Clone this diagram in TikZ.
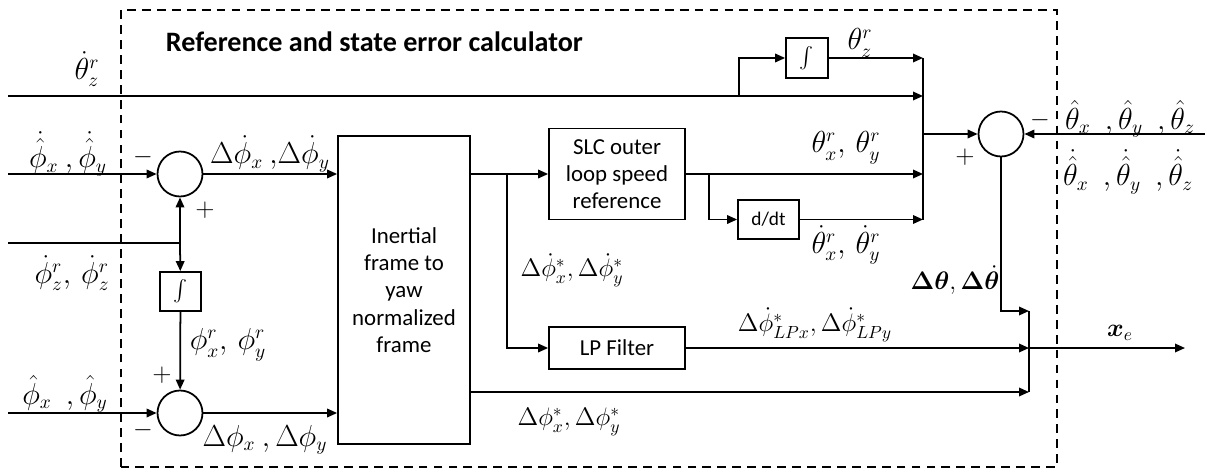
\documentclass[tikz,border=0pt]{standalone}
\usepackage{amsmath,bm}
\usepackage{fontspec}
\setmainfont{Carlito}
\usetikzlibrary{arrows.meta}

\tikzset{
  block/.style={draw, line width=1pt, align=center, inner sep=2pt, font=\fontsize{13}{15.5}\selectfont},
  sumnode/.style={draw, circle, line width=1pt, minimum size=0.9cm, inner sep=0pt},
  sig/.style={font=\fontsize{16}{19}\selectfont, inner sep=1pt},
  sigs/.style={font=\Large, inner sep=1pt},
  sign/.style={font=\Large, inner sep=0pt},
  frame/.style={line width=1pt, dash pattern=on 5pt off 3.5pt}
}

\begin{document}
\begin{tikzpicture}[line width=1pt, line join=miter,
  >={Triangle[length=2mm,width=1.7mm]}]

\useasboundingbox (0,0) rectangle (24.14,9.46);

% --- Coordinates ---
\coordinate (inA) at (0.16,7.54);
\coordinate (inB) at (0.16,5.98);
\coordinate (inC) at (0.16,4.6);
\coordinate (inD) at (0.16,1.2);
\coordinate (inE) at (24.1,6.78);
\coordinate (out) at (23.7,2.5);
\coordinate (b1) at (18.46,0);
\coordinate (b2) at (20.58,0);

% --- Blocks ---
\node[sumnode] (s1) at (3.6,5.98) {};
\node[sumnode] (s2) at (3.6,1.2) {};
\node[sumnode] (s3) at (20.02,6.78) {};
\node[block, minimum width=0.82cm, minimum height=0.78cm] (intA) at (3.61,3.63) {$\int$};
\node[block, minimum width=0.84cm, minimum height=0.8cm] (intB) at (16.14,8.3) {$\int$};
\node[block, minimum width=2.64cm, minimum height=6.16cm] (iner) at (8.08,3.66)
  {Inertial\\frame to\\yaw\\normalized\\frame};
\node[block, minimum width=2.72cm, minimum height=1.82cm] (slc) at (12.34,5.98)
  {SLC outer\\loop speed\\reference};
\node[block, minimum width=2.72cm, minimum height=0.84cm] (lpf) at (12.34,2.5) {LP Filter};
\node[block, font=\fontsize{11}{13}\selectfont, minimum width=1.22cm, minimum height=0.78cm] (ddt) at (15.37,5.07) {d/dt};

% --- Frame ---
\draw[frame] (2.42,0.12) rectangle (21.14,9.26);
\node[font=\fontsize{16}{19}\selectfont\bfseries, anchor=west, inner sep=0pt] (title) at (3.3,8.62)
  {Reference and state error calculator};

% --- Left side ---
\draw[->] (inB) -- (s1);
\draw[->] (s1) -- (s1 -| iner.west);
\draw (inC) -- (inC -| s1) coordinate (j1);
\draw[->] (j1) -- (s1);
\draw[->] (j1) -- (intA);
\draw[->] (intA) -- (s2);
\draw[->] (inD) -- (s2);
\draw[->] (s2) -- (s2 -| iner.west);

% --- Middle ---
\coordinate (j2) at (10.14,5.98);
\coordinate (j3) at (14.18,5.98);
\coordinate (j4) at (14.78,7.54);
\coordinate (j5) at (20.58,3.24);
\coordinate (j6) at (20.58,1.62);
\draw[->] (iner.east |- slc) -- (slc);
\draw[->] (j2) |- (lpf);
\draw[->] (slc) -- (slc -| b1);
\draw[->] (j3) |- (ddt);
\draw[->] (ddt) -- (ddt -| b1);
\draw[->] (inA) -- (inA -| b1);
\draw[->] (j4) |- (intB);
\draw[->] (intB) -- (intB -| b1);

% --- Right side ---
\draw (intB -| b1) -- (ddt -| b1);
\draw[->] (s3 -| b1) -- (s3);
\draw[->] (inE) -- (s3);
\draw[->] (s3) |- (j5);
\draw (j5) -- (j6);
\draw[->] (lpf) -- (lpf -| b2);
\draw[->] (lpf -| b2) -- (out);
\draw[->] (iner.east |- j6) -- (j6);

% --- Labels ---
\node[sig] (l1) at (1.74,8.08) {$\dot{\theta}_z^r$};
\node[sig] (l2) at (1.36,6.38) {$\dot{\hat{\phi}}_x\ ,\dot{\hat{\phi}}_y$};
\node[sig] (l3) at (5.4,6.38) {$\Delta\dot{\phi}_x\ ,\!\Delta\dot{\phi}_y$};
\node[sig] (l4) at (1.44,4.0) {$\dot{\phi}_z^r,\, \dot{\phi}_z^r$};
\node[sig] (l5) at (4.56,2.56) {$\phi_x^r,\, \phi_y^r$};
\node[sig] (l6) at (1.3,1.58) {$\hat{\phi}_x\enspace,\hat{\phi}_y$};
\node[sig] (l7) at (5.3,0.66) {$\Delta\phi_x\ ,\Delta\phi_y$};
\node[sigs] (l8) at (11.44,4.06) {$\Delta\dot{\phi}_x^*, \Delta\dot{\phi}_y^*$};
\node[sigs] (l9) at (11.38,1.02) {$\Delta\phi_x^*, \Delta\phi_y^*$};
\node[sig] (l10) at (17.2,8.6) {$\theta_z^r$};
\node[sig] (l11) at (16.92,6.5) {$\theta_x^r,\, \theta_y^r$};
\node[sig] (l12) at (16.92,4.56) {$\dot{\theta}_x^r,\, \dot{\theta}_y^r$};
\node[sigs] (l13) at (16.3,2.96) {$\Delta\dot{\phi}_{LPx}^*, \Delta\dot{\phi}_{LPy}^*$};
\node[sig] (l14) at (22.6,7.08) {$\hat{\theta}_x\enspace,\hat{\theta}_y\enspace,\hat{\theta}_z$};
\node[sig] (l15) at (22.56,6.02) {$\dot{\hat{\theta}}_x\enspace,\dot{\hat{\theta}}_y\enspace,\dot{\hat{\theta}}_z$};
\node[sigs] (l16) at (19.1,3.86) {$\bm{\Delta\theta}, \bm{\Delta\dot{\theta}}$};
\node[sigs] (l17) at (22.4,2.8) {$\bm{x}_e$};

% --- Signs ---
\node[sign] (m1) at (2.86,6.32) {$-$};
\node[sign] (p1) at (4.1,5.26) {$+$};
\node[sign] (p2) at (3.24,1.96) {$+$};
\node[sign] (m2) at (2.86,0.86) {$-$};
\node[sign] (p3) at (19.3,6.32) {$+$};
\node[sign] (m3) at (20.8,7.06) {$-$};

\end{tikzpicture}
\end{document}
